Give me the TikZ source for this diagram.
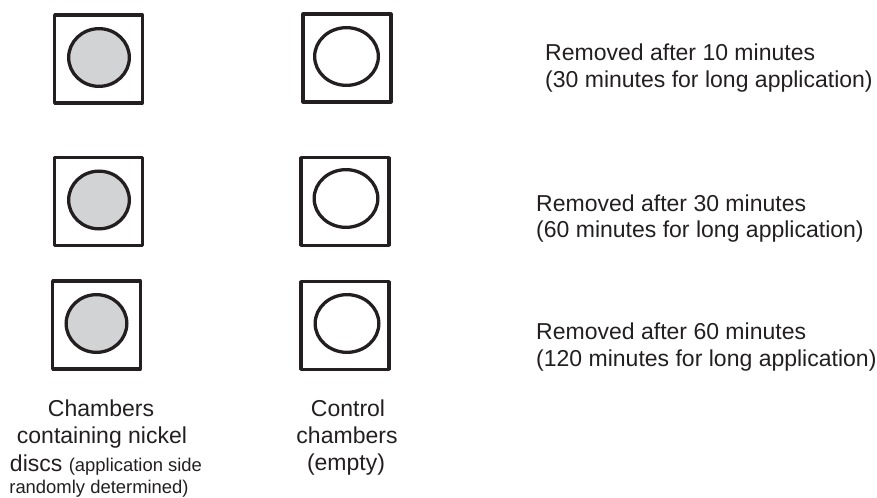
\documentclass[tikz,border=0pt]{standalone}
\usepackage{fontspec}
\setmainfont{Liberation Sans}
\usetikzlibrary{shapes.geometric}
\definecolor{ink}{HTML}{231F20}
\definecolor{discgray}{HTML}{D1D3D4}
\newcommand{\bigtxt}{\fontsize{23.1}{27}\selectfont}
\newcommand{\smalltxt}{\fontsize{18.5}{22}\selectfont}

\begin{document}
\begin{tikzpicture}[x=1bp,y=-1bp,
  chamber/.style={draw=ink,line width=3.3bp,line join=round,rectangle,inner sep=0pt,
    minimum width=87.8bp,minimum height=87.8bp},
  nickel/.style={draw=ink,line width=3.3bp,ellipse,inner sep=0pt,fill=discgray,
    minimum width=60.7bp,minimum height=57.7bp},
  emptydisc/.style={draw=ink,line width=3.3bp,ellipse,inner sep=0pt,fill=white,
    minimum width=63.7bp,minimum height=57.7bp},
  lbl/.style={text=ink,inner sep=0pt,font=\bigtxt},
  line/.style={lbl,anchor=base west},
  cline/.style={lbl,anchor=base}]
\useasboundingbox (0,0) rectangle (877,498);

% chambers holding nickel discs
\node[chamber] (s1) at (98.5,59) {};
\node[chamber] (s2) at (98.5,201.5) {};
\node[chamber] (s3) at (96.5,325) {};
\node[nickel] (d1) at (99,57.5) {};
\node[nickel] (d2) at (99,200) {};
\node[nickel] (d3) at (96.5,323.5) {};

% empty control chambers
\node[chamber] (k1) at (347,58) {};
\node[chamber] (k2) at (345,201.5) {};
\node[chamber] (k3) at (345,325.5) {};
\node[emptydisc] (e1) at (346.5,56.5) {};
\node[emptydisc] (e2) at (346,198.5) {};
\node[emptydisc] (e3) at (347,323.5) {};

% removal times
\node[line] (t1a) at (545,61) {Removed after 10 minutes};
\node[line] (t1b) at (545,88) {(30 minutes for long application)};
\node[line] (t2a) at (536,212) {Removed after 30 minutes};
\node[line] (t2b) at (536,238) {(60 minutes for long application)};
\node[line] (t3a) at (536,340) {Removed after 60 minutes};
\node[line] (t3b) at (536,366) {(120 minutes for long application)};

% column captions
\node[cline] (c1a) at (101,416) {Chambers};
\node[cline] (c1b) at (102,443) {containing nickel};
\node[cline] (c1c) at (106,471) {discs {\smalltxt(application side}};
\node[cline,font=\smalltxt] (c1d) at (99,493) {randomly determined)};

\node[cline] (c2a) at (348,416) {Control};
\node[cline] (c2b) at (347,443) {chambers};
\node[cline] (c2c) at (346,470) {(empty)};
\end{tikzpicture}
\end{document}
